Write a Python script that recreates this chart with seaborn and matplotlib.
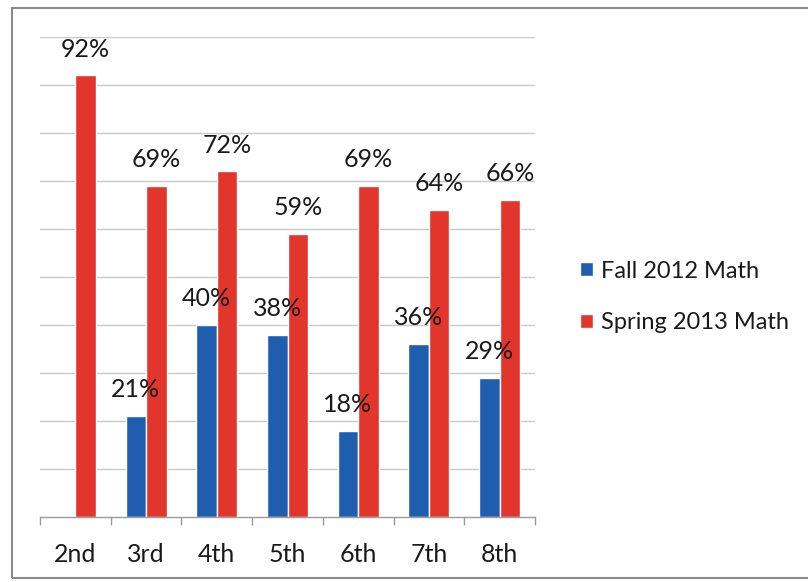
import numpy as np
import pandas as pd
import seaborn as sns
import matplotlib
matplotlib.use("Agg")
import matplotlib.pyplot as plt
from matplotlib.patches import Rectangle

grades = ["2nd", "3rd", "4th", "5th", "6th", "7th", "8th"]
fall_2012 = [np.nan, 21, 40, 38, 18, 36, 29]
spring_2013 = [92, 69, 72, 59, 69, 64, 66]
series_names = ["Fall 2012 Math", "Spring 2013 Math"]
colors = ["#1F5DAF", "#E2352B"]

df = pd.DataFrame({
    "Grade": grades * 2,
    "Value": fall_2012 + spring_2013,
    "Series": [series_names[0]] * len(grades) + [series_names[1]] * len(grades),
})

sns.set_theme(style="white")
plt.rcParams["font.family"] = ["Lato", "DejaVu Sans"]

fig = plt.figure(figsize=(8.08, 5.82), dpi=100)
fig.patch.set_facecolor("white")
ax = fig.add_axes([40 / 808, 65 / 582, 495 / 808, 480 / 582])

sns.barplot(data=df, x="Grade", y="Value", hue="Series", order=grades,
            hue_order=series_names, palette=colors, width=0.58,
            saturation=1, ax=ax, legend=True)

ax.set_ylim(0, 100)
ax.set_xlim(-0.5, len(grades) - 0.5)
ax.set_yticks(np.arange(10, 101, 10))
ax.yaxis.grid(True, color="#C8C8C8", linewidth=1.0)
ax.set_axisbelow(True)
ax.tick_params(axis="y", left=False, labelleft=False)
ax.set_xlabel("")
ax.set_ylabel("")
for s in ["top", "right", "left"]:
    ax.spines[s].set_visible(False)
ax.spines["bottom"].set_color("#9A9A9A")
ax.spines["bottom"].set_linewidth(1.0)

ax.set_xticks(np.arange(-0.5, len(grades), 1.0), minor=True)
ax.tick_params(axis="x", which="minor", bottom=True, length=6, color="#9A9A9A", width=1)
ax.tick_params(axis="x", which="major", bottom=False, length=0, pad=19,
               labelsize=18, labelcolor="#1A1A1A")

for cont in ax.containers:
    for bar in cont:
        h = bar.get_height()
        if np.isnan(h) or h <= 0:
            continue
        ax.annotate(f"{h:.0f}%", (bar.get_x() + bar.get_width() / 2, h),
                    xytext=(0, 19), textcoords="offset points",
                    ha="center", va="center", fontsize=18, color="#1A1A1A")

leg = ax.legend(loc="center left", bbox_to_anchor=(571 / 808, 1 - 297 / 582),
                bbox_transform=fig.transFigure, frameon=False, fontsize=17,
                handlelength=0.55, handleheight=0.55, handletextpad=0.3,
                labelspacing=1.3, borderaxespad=0)
for t in leg.get_texts():
    t.set_color("#1A1A1A")

fig.patches.append(Rectangle((12 / 808, 4 / 582), 1.0, 1 - 12 / 582,
                             transform=fig.transFigure, fill=False,
                             edgecolor="#8A8A8A", linewidth=1.5))

fig.savefig("out.png", dpi=100)
